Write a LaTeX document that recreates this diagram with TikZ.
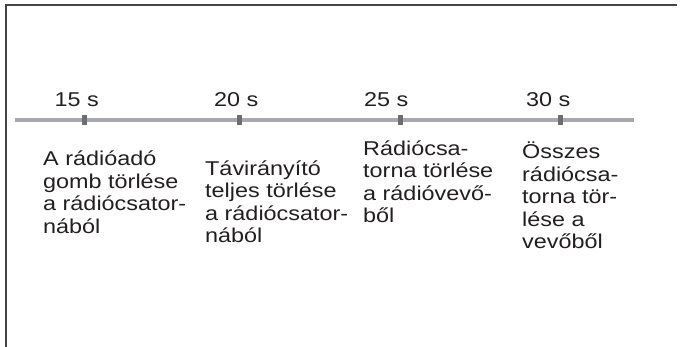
\documentclass[tikz,border=0pt]{standalone}
\usepackage{fontspec}
\setmainfont[FakeStretch=1.17]{Liberation Sans}
\definecolor{framec}{HTML}{444444}
\definecolor{linec}{HTML}{A7A9AC}
\definecolor{tickc}{HTML}{6D6E71}
\definecolor{txt}{HTML}{231F20}
\begin{document}
\begin{tikzpicture}[x=1pt,y=-1pt,
  lbl/.style={anchor=base west, inner sep=0pt, font=\fontsize{20}{22.5}\selectfont, text=txt},
  desc/.style={lbl, align=left},
  tickmark/.style={fill=tickc, draw=none, minimum width=5pt, minimum height=10pt, inner sep=0pt},
  framestyle/.style={draw=framec, line width=1.5pt},
  axisline/.style={draw=linec, line width=4pt}]
\useasboundingbox (0,0) rectangle (681,347);
\coordinate (fb) at (6,347);
\coordinate (fc) at (6,5);
\coordinate (fr) at (677,5);
\draw[framestyle] (fb) -- (fc) -- (fr);
\coordinate (ls) at (15,120.5);
\coordinate (le) at (634,120.5);
\draw[axisline] (ls) -- (le);
\node[tickmark] (k1) at (84,120) {};
\node[tickmark] (k2) at (239,120) {};
\node[tickmark] (k3) at (400,120) {};
\node[tickmark] (k4) at (560,120) {};
\node[lbl] (l1) at (54.5,107) {15 s};
\node[lbl] (l2) at (214,107) {20 s};
\node[lbl] (l3) at (364,107) {25 s};
\node[lbl] (l4) at (526,107) {30 s};
% base anchor of a multi-line node = baseline of its last line
\node[desc] (d1) at (43,233.5) {A rádióadó\\gomb törlése\\a rádiócsator-\\nából};
\node[desc] (d2) at (205,243) {Távirányító\\teljes törlése\\a rádiócsator-\\nából};
\node[desc] (d3) at (363,223) {Rádiócsa-\\torna törlése\\a rádióvevő-\\ből};
\node[desc] (d4) at (522,249) {Összes\\rádiócsa-\\torna tör-\\lése a\\vevőből};
\end{tikzpicture}
\end{document}
